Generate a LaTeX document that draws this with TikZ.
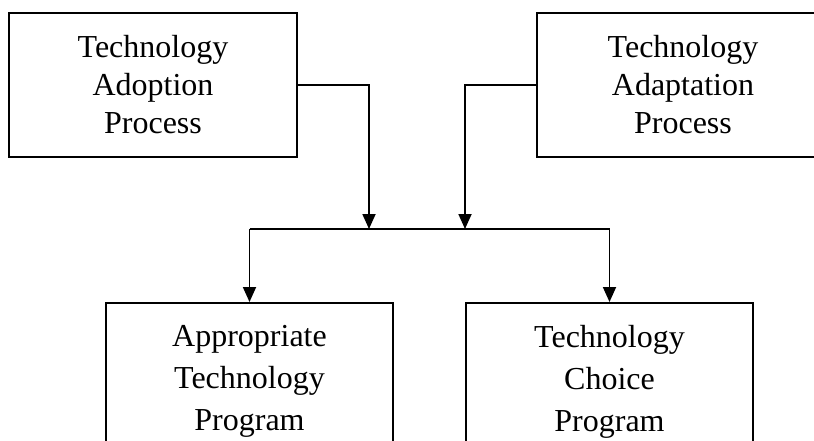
\documentclass[tikz,border=0pt]{standalone}
\usepackage{fontspec}
\setmainfont{Liberation Serif}
\usetikzlibrary{arrows.meta}
\begin{document}
\begin{tikzpicture}[x=1pt,y=-1pt,
  box/.style={draw, line width=2pt, inner sep=0pt, align=center,
    font=\fontsize{32}{38}\selectfont},
  btext/.style={inner sep=0pt, align=center, anchor=north,
    font=\fontsize{32}{42}\selectfont},
  conn/.style={line width=1.8pt},
  arr/.style={conn, -{Triangle[length=15pt,width=13pt]}}]
\useasboundingbox (0,0) rectangle (814,441);
\clip (0,0) rectangle (814,441);
\node[box, minimum width=288pt, minimum height=144pt] (adopt) at (153,85) {Technology\\Adoption\\Process};
\node[box, minimum width=292pt, minimum height=144pt] (adapt) at (683,85) {Technology\\Adaptation\\Process};
\node[box, minimum width=287pt, minimum height=170pt, anchor=north] (atp) at (249.5,302) {};
\node[box, minimum width=287pt, minimum height=170pt, anchor=north] (tcp) at (609.5,302) {};
\node[btext] (atptext) at (249.5,325) {Appropriate\\Technology\\Program};
\node[btext] (tcptext) at (609.5,325) {Technology\\Choice\\Program};
\coordinate (jl) at (369,229);
\coordinate (jr) at (465,229);
\coordinate (bl) at (249.5,229);
\coordinate (br) at (609.5,229);
\draw[arr] (adopt.east) -| (jl);
\draw[arr] (adapt.west) -| (jr);
\draw[conn] (bl) -- (br);
\draw[arr] (bl) -- (atp.north);
\draw[arr] (br) -- (tcp.north);
\end{tikzpicture}
\end{document}
